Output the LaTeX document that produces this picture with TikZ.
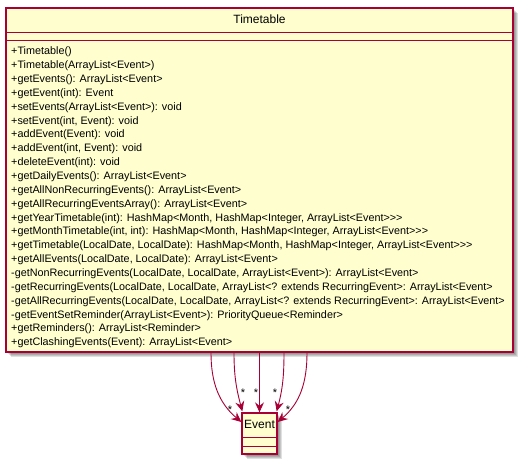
\documentclass[tikz,border=0pt]{standalone}
\usepackage{fontspec}
\setmainfont{Liberation Sans}[Ligatures=TeXOff]
\usetikzlibrary{arrows.meta,calc}
\definecolor{umlred}{HTML}{A80036}
\definecolor{umlfill}{HTML}{FEFECE}
\begin{document}
\begin{tikzpicture}[x=1pt,y=1pt,
  classbox/.style={draw=umlred, fill=umlfill, line width=1.3pt, inner sep=0pt, rectangle},
  sepline/.style={draw=umlred, line width=1.3pt},
  conn/.style={draw=umlred, line width=0.9pt, -{Stealth[length=10pt,width=9pt,inset=3.5pt]}},
  member/.style={font=\fontsize{10.8}{13}\selectfont, anchor=west, inner sep=0pt, text height=8pt, text depth=2.5pt},
  mult/.style={font=\fontsize{11}{13}\selectfont, inner sep=0pt},
  shadowbox/.style={fill=black, opacity=0.12}]
\useasboundingbox (0,0) rectangle (523,464);
% shadows
\foreach \d in {2,3,4,5}{
  \fill[shadowbox] (6+\d,456-\d) rectangle (513+\d,112-\d);
  \fill[shadowbox] (242+\d,51-\d) rectangle (277+\d,10-\d);
}
% Timetable class
\node[classbox, minimum width=507pt, minimum height=344pt] (tt) at (259.5,284) {};
\node[font=\fontsize{12}{14}\selectfont, inner sep=0pt] (ttl) at ($(tt.north)+(0,-12)$) {Timetable};
\draw[sepline] ($(tt.north west)+(0,-25)$) -- ($(tt.north east)+(0,-25)$);
\draw[sepline] ($(tt.north west)+(0,-33)$) -- ($(tt.north east)+(0,-33)$);
\foreach \t [count=\i from 0] in {
 {+Timetable()},
 {+Timetable(ArrayList<Event>)},
 {+getEvents(): ArrayList<Event>},
 {+getEvent(int): Event},
 {+setEvents(ArrayList<Event>): void},
 {+setEvent(int, Event): void},
 {+addEvent(Event): void},
 {+addEvent(int, Event): void},
 {+deleteEvent(int): void},
 {+getDailyEvents(): ArrayList<Event>},
 {+getAllNonRecurringEvents(): ArrayList<Event>},
 {+getAllRecurringEventsArray(): ArrayList<Event>},
 {+getYearTimetable(int): HashMap<Month, HashMap<Integer, ArrayList<Event>>>},
 {+getMonthTimetable(int, int): HashMap<Month, HashMap<Integer, ArrayList<Event>>>},
 {+getTimetable(LocalDate, LocalDate): HashMap<Month, HashMap<Integer, ArrayList<Event>>>},
 {+getAllEvents(LocalDate, LocalDate): ArrayList<Event>},
 {-getNonRecurringEvents(LocalDate, LocalDate, ArrayList<Event>): ArrayList<Event>},
 {-getRecurringEvents(LocalDate, LocalDate, ArrayList<? extends RecurringEvent>: ArrayList<Event>},
 {-getAllRecurringEvents(LocalDate, LocalDate, ArrayList<? extends RecurringEvent>: ArrayList<Event>},
 {-getEventSetReminder(ArrayList<Event>): PriorityQueue<Reminder>},
 {+getReminders(): ArrayList<Reminder>},
 {+getClashingEvents(Event): ArrayList<Event>}}{
  \node[member] (m\i) at (11,412-13.86*\i) {\t};
}
% Event class
\node[classbox, minimum width=35pt, minimum height=41pt] (ev) at (259.5,30.5) {};
\node[font=\fontsize{12}{14}\selectfont, inner sep=0pt] (evl) at ($(ev.north)+(0,-12.5)$) {Event};
\draw[sepline] ($(ev.north west)+(0,-25)$) -- ($(ev.north east)+(0,-25)$);
\draw[sepline] ($(ev.north west)+(0,-34)$) -- ($(ev.north east)+(0,-34)$);
% connectors
\draw[conn] ($(tt.south)+(-48.5,0)$) to[out=-90,in=140] ($(ev.west)+(0,11.5)$);
\draw[conn] ($(tt.south)+(-25.5,0)$) to[out=-90,in=105] ($(ev.north west)+(1,1)$);
\draw[conn] (tt.south) -- (ev.north);
\draw[conn] ($(tt.south)+(24.5,0)$) to[out=-90,in=75] ($(ev.north east)+(-1,1)$);
\draw[conn] ($(tt.south)+(47.5,0)$) to[out=-90,in=40] ($(ev.east)+(0,11.5)$);
% multiplicities
\node[mult] (s1) at (230,54) {*};
\node[mult] (s2) at (243,71) {*};
\node[mult] (s3) at (256,71) {*};
\node[mult] (s4) at (275,71) {*};
\node[mult] (s5) at (288,54) {*};
\end{tikzpicture}
\end{document}
